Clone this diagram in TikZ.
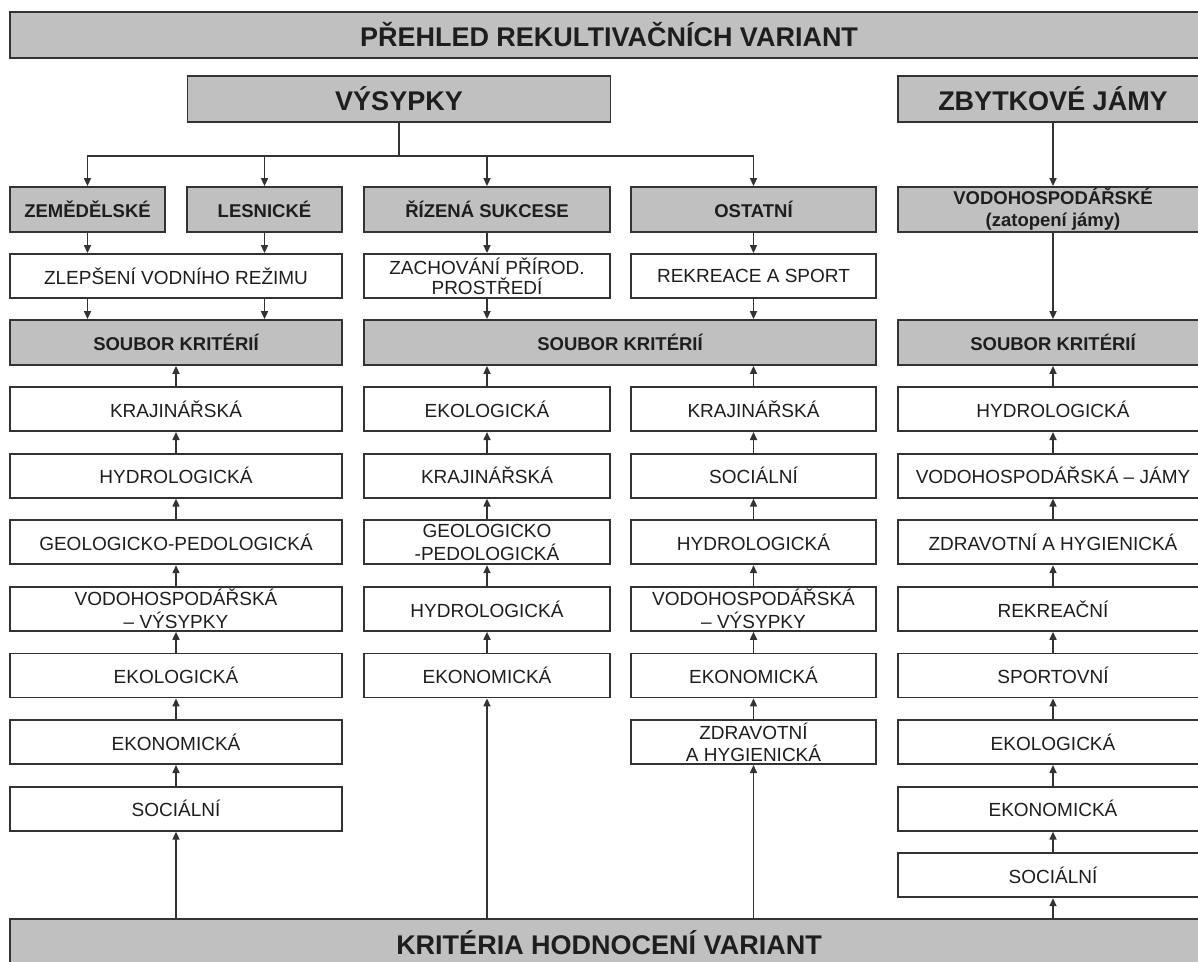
\documentclass[tikz,border=0pt]{standalone}
\usepackage{fontspec}
\setmainfont{Liberation Sans}
\usetikzlibrary{arrows.meta}

\definecolor{boxgray}{HTML}{C0C0C0}
\definecolor{linec}{HTML}{333333}
\definecolor{txt}{HTML}{1E1E1E}

\begin{document}
\begin{tikzpicture}[x=1pt,y=-1pt,
    gbox/.style={draw=linec,line width=1.8pt,fill=boxgray,inner sep=0pt,align=center,text=txt,
      font=\fontsize{18.5}{22}\selectfont\bfseries},
    big/.style={gbox,minimum height=46pt,font=\fontsize{27}{30}\selectfont\bfseries},
    crit/.style={draw=linec,line width=1.8pt,fill=white,inner sep=0pt,align=center,text=txt,
      minimum height=44pt,font=\fontsize{19}{22.5}\selectfont},
    ln/.style={draw=linec,line width=1.6pt},
    arr/.style={ln,-{Triangle[length=8pt,width=7pt]}}]
    \useasboundingbox (0,0) rectangle (1198,961);
    \clip (0,0) rectangle (1198,961);
    \fill[white] (0,0) rectangle (1198,961);
    % headings
    \node[big,minimum width=1198pt] (title) at (609,35) {PŘEHLED REKULTIVAČNÍCH VARIANT};
    \node[big,minimum width=423pt] (vys) at (399,99) {VÝSYPKY};
    \node[big,minimum width=310pt] (zby) at (1053,99) {ZBYTKOVÉ JÁMY};
    % variants
    \node[gbox,minimum width=155pt,minimum height=45pt] (zem) at (87.5,209.5) {ZEMĚDĚLSKÉ};
    \node[gbox,minimum width=155pt,minimum height=45pt] (les) at (264.5,209.5) {LESNICKÉ};
    \node[gbox,minimum width=246pt,minimum height=45pt] (riz) at (487,209.5) {ŘÍZENÁ SUKCESE};
    \node[gbox,minimum width=245pt,minimum height=45pt] (ost) at (753.5,209.5) {OSTATNÍ};
    \node[gbox,minimum width=310pt,minimum height=45pt] (vodo) at (1053,209.5) {VODOHOSPODÁŘSKÉ\\(zatopení jámy)};
    \node[crit,minimum width=332pt] (zlep) at (176,276) {ZLEPŠENÍ VODNÍHO REŽIMU};
    \node[crit,minimum width=246pt,font=\fontsize{19}{20}\selectfont] (zach) at (487,276) {ZACHOVÁNÍ PŘÍROD.\\PROSTŘEDÍ};
    \node[crit,minimum width=245pt] (rek) at (753.5,276) {REKREACE A SPORT};
    \node[gbox,minimum width=332pt,minimum height=45pt] (sb1) at (176,342.5) {SOUBOR KRITÉRIÍ};
    \node[gbox,minimum width=512pt,minimum height=45pt] (sb2) at (620,342.5) {SOUBOR KRITÉRIÍ};
    \node[gbox,minimum width=310pt,minimum height=45pt] (sb3) at (1053,342.5) {SOUBOR KRITÉRIÍ};
    \node[big,minimum width=1198pt,minimum height=48pt] (krit) at (609,943) {KRITÉRIA HODNOCENÍ VARIANT};
    % criteria
    \foreach \t [count=\i] in {KRAJINÁŘSKÁ,HYDROLOGICKÁ,GEOLOGICKO-PEDOLOGICKÁ,{VODOHOSPODÁŘSKÁ\\– VÝSYPKY},EKOLOGICKÁ,EKONOMICKÁ,SOCIÁLNÍ}
      \node[crit,minimum width=332pt] (a\i) at (176,342.5+66.6*\i) {\t};
    \foreach \t [count=\i] in {EKOLOGICKÁ,KRAJINÁŘSKÁ,{GEOLOGICKO\\-PEDOLOGICKÁ},HYDROLOGICKÁ,EKONOMICKÁ}
      \node[crit,minimum width=246pt] (b\i) at (487,342.5+66.6*\i) {\t};
    \foreach \t [count=\i] in {KRAJINÁŘSKÁ,SOCIÁLNÍ,HYDROLOGICKÁ,{VODOHOSPODÁŘSKÁ\\– VÝSYPKY},EKONOMICKÁ,{ZDRAVOTNÍ\\A HYGIENICKÁ}}
      \node[crit,minimum width=245pt] (c\i) at (753.5,342.5+66.6*\i) {\t};
    \foreach \t [count=\i] in {HYDROLOGICKÁ,VODOHOSPODÁŘSKÁ – JÁMY,ZDRAVOTNÍ A HYGIENICKÁ,REKREAČNÍ,SPORTOVNÍ,EKOLOGICKÁ,EKONOMICKÁ,SOCIÁLNÍ}
      \node[crit,minimum width=310pt] (d\i) at (1053,342.5+66.6*\i) {\t};
    % connectors at the top
    \coordinate (br) at ([yshift=-33pt]vys.south);
    \draw[ln] (vys) -- (br);
    \foreach \n in {zem,les,riz,ost}
      \draw[arr] (br) -| (\n);
    \draw[arr] (zby) -- (vodo);
    \draw[arr] (zem) -- (zem |- zlep.north);
    \draw[arr] (les) -- (les |- zlep.north);
    \draw[arr] (zem |- zlep.south) -- (zem |- sb1.north);
    \draw[arr] (les |- zlep.south) -- (les |- sb1.north);
    \draw[arr] (riz) -- (zach);
    \draw[arr] (zach) -- (zach |- sb2.north);
    \draw[arr] (ost) -- (rek);
    \draw[arr] (rek) -- (rek |- sb2.north);
    \draw[arr] (vodo) -- (sb3);
    % criteria chains
    \foreach \i [evaluate=\i as \j using int(\i-1)] in {2,...,7}
      \draw[arr] (a\i) -- (a\j);
    \foreach \i [evaluate=\i as \j using int(\i-1)] in {2,...,5}
      \draw[arr] (b\i) -- (b\j);
    \foreach \i [evaluate=\i as \j using int(\i-1)] in {2,...,6}
      \draw[arr] (c\i) -- (c\j);
    \foreach \i [evaluate=\i as \j using int(\i-1)] in {2,...,8}
      \draw[arr] (d\i) -- (d\j);
    \draw[arr] (a1) -- (sb1);
    \draw[arr] (b1) -- (b1 |- sb2.south);
    \draw[arr] (c1) -- (c1 |- sb2.south);
    \draw[arr] (d1) -- (sb3);
    \draw[arr] (krit.north -| a7) -- (a7);
    \draw[arr] (krit.north -| b5) -- (b5);
    \draw[arr] (krit.north -| c6) -- (c6);
    \draw[arr] (krit.north -| d8) -- (d8);
  \end{tikzpicture}
\end{document}
